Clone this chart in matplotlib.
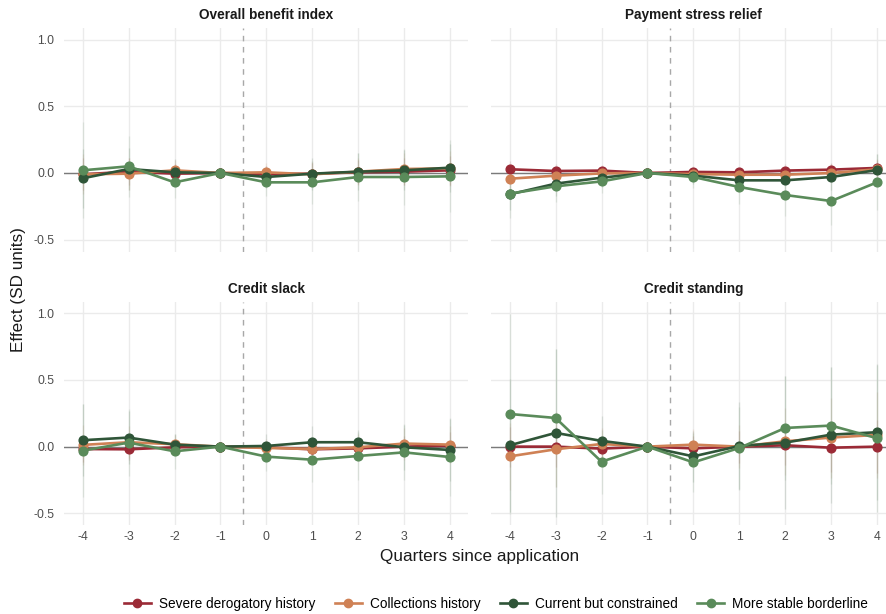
import matplotlib
matplotlib.use("Agg")
import matplotlib.pyplot as plt
from matplotlib.lines import Line2D

plt.rcParams['font.family'] = ['Liberation Sans', 'DejaVu Sans']

quarters = [-4, -3, -2, -1, 0, 1, 2, 3, 4]
groups = ["Severe derogatory history", "Collections history",
          "Current but constrained", "More stable borderline"]
group_colors = ["#9B2A36", "#CF8155", "#2F5538", "#5A8B5A"]
panel_titles = ["Overall benefit index", "Payment stress relief",
                "Credit slack", "Credit standing"]
y_ticks = [-0.5, 0.0, 0.5, 1.0]
y_tick_labels = ["-0.5", "0.0", "0.5", "1.0"]

# Point estimates (SD units), event time -1 is the reference quarter
overall_severe = [-0.01, 0.01, -0.005, 0.0, -0.01, -0.005, 0.005, 0.01, 0.02]
overall_collections = [-0.01, -0.005, 0.02, 0.0, 0.005, -0.01, 0.01, 0.03, 0.035]
overall_current = [-0.04, 0.03, 0.005, 0.0, -0.03, -0.005, 0.01, 0.02, 0.04]
overall_borderline = [0.02, 0.05, -0.07, 0.0, -0.07, -0.07, -0.03, -0.03, -0.025]

payment_severe = [0.028, 0.015, 0.018, 0.0, 0.008, 0.005, 0.018, 0.025, 0.038]
payment_collections = [-0.043, -0.02, -0.003, 0.0, -0.008, -0.013, -0.013, 0.0, 0.028]
payment_current = [-0.16, -0.08, -0.035, 0.0, -0.02, -0.055, -0.055, -0.03, 0.022]
payment_borderline = [-0.155, -0.10, -0.063, 0.0, -0.03, -0.105, -0.165, -0.21, -0.07]

slack_severe = [-0.018, -0.02, -0.005, 0.0, -0.005, -0.02, -0.013, 0.0, 0.008]
slack_collections = [0.013, 0.033, 0.018, 0.0, -0.01, -0.018, -0.005, 0.023, 0.015]
slack_current = [0.048, 0.068, 0.015, 0.0, 0.005, 0.033, 0.033, -0.005, -0.025]
slack_borderline = [-0.03, 0.03, -0.035, 0.0, -0.075, -0.098, -0.07, -0.043, -0.078]

standing_severe = [0.0, 0.0, -0.015, 0.0, -0.013, 0.0, 0.01, -0.008, 0.0]
standing_collections = [-0.073, -0.02, 0.02, 0.0, 0.015, 0.0, 0.04, 0.068, 0.088]
standing_current = [0.01, 0.103, 0.043, 0.0, -0.073, 0.005, 0.03, 0.09, 0.108]
standing_borderline = [0.245, 0.215, -0.113, 0.0, -0.118, -0.01, 0.14, 0.158, 0.063]

# 95% confidence half-widths
overall_severe_ci = [0.12, 0.10, 0.07, 0.0, 0.06, 0.08, 0.09, 0.10, 0.11]
overall_collections_ci = [0.15, 0.12, 0.08, 0.0, 0.07, 0.09, 0.10, 0.12, 0.13]
overall_current_ci = [0.22, 0.16, 0.10, 0.0, 0.08, 0.12, 0.14, 0.15, 0.18]
overall_borderline_ci = [0.36, 0.23, 0.12, 0.0, 0.10, 0.16, 0.18, 0.21, 0.27]

payment_severe_ci = [0.06, 0.05, 0.04, 0.0, 0.03, 0.04, 0.05, 0.05, 0.06]
payment_collections_ci = [0.08, 0.06, 0.05, 0.0, 0.04, 0.05, 0.06, 0.07, 0.08]
payment_current_ci = [0.12, 0.09, 0.07, 0.0, 0.06, 0.08, 0.09, 0.10, 0.12]
payment_borderline_ci = [0.18, 0.12, 0.09, 0.0, 0.08, 0.13, 0.16, 0.18, 0.21]

slack_severe_ci = [0.10, 0.08, 0.05, 0.0, 0.05, 0.07, 0.07, 0.08, 0.10]
slack_collections_ci = [0.15, 0.12, 0.07, 0.0, 0.07, 0.09, 0.10, 0.12, 0.14]
slack_current_ci = [0.27, 0.20, 0.08, 0.0, 0.09, 0.12, 0.09, 0.17, 0.23]
slack_borderline_ci = [0.35, 0.25, 0.13, 0.0, 0.11, 0.17, 0.18, 0.21, 0.29]

standing_severe_ci = [0.15, 0.15, 0.09, 0.0, 0.09, 0.12, 0.15, 0.18, 0.20]
standing_collections_ci = [0.25, 0.28, 0.12, 0.0, 0.12, 0.16, 0.25, 0.30, 0.32]
standing_current_ci = [0.50, 0.63, 0.19, 0.0, 0.19, 0.33, 0.50, 0.51, 0.51]
standing_borderline_ci = [0.75, 0.52, 0.24, 0.0, 0.22, 0.31, 0.39, 0.44, 0.55]

panels = {
    "Overall benefit index": (
        [overall_severe, overall_collections, overall_current, overall_borderline],
        [overall_severe_ci, overall_collections_ci, overall_current_ci, overall_borderline_ci]),
    "Payment stress relief": (
        [payment_severe, payment_collections, payment_current, payment_borderline],
        [payment_severe_ci, payment_collections_ci, payment_current_ci, payment_borderline_ci]),
    "Credit slack": (
        [slack_severe, slack_collections, slack_current, slack_borderline],
        [slack_severe_ci, slack_collections_ci, slack_current_ci, slack_borderline_ci]),
    "Credit standing": (
        [standing_severe, standing_collections, standing_current, standing_borderline],
        [standing_severe_ci, standing_collections_ci, standing_current_ci, standing_borderline_ci]),
}

W, H = 886, 614
fig = plt.figure(figsize=(W / 100, H / 100), dpi=100)

# panel boxes in pixels: left, top, right, bottom
boxes = [
    (64.3, 28.0, 468.4, 251.7),
    (491.3, 28.0, 895.4, 251.7),
    (64.3, 301.7, 468.4, 525.3),
    (491.3, 301.7, 895.4, 525.3),
]

tick_color = "#4D4D4D"
grid_color = "#EBEBEB"

for i, (title, box) in enumerate(zip(panel_titles, boxes)):
    l, t, r, b = box
    ax = fig.add_axes([l / W, (H - b) / H, (r - l) / W, (b - t) / H])
    ax.set_xlim(-4.4, 4.4)
    ax.set_ylim(-0.59, 1.087)
    for s in ax.spines.values():
        s.set_visible(False)
    ax.set_xticks(quarters)
    ax.set_yticks(y_ticks)
    ax.grid(True, color=grid_color, lw=1.0, zorder=0)
    ax.set_axisbelow(True)
    ax.tick_params(length=0, colors=tick_color, labelsize=8.8)
    ax.tick_params(axis="y", pad=7)
    ax.tick_params(axis="x", pad=4)
    if i % 2 == 0:
        ax.set_yticklabels(y_tick_labels)
    else:
        ax.set_yticklabels([])
    if i >= 2:
        ax.set_xticklabels([str(q) for q in quarters])
    else:
        ax.set_xticklabels([])

    ax.axhline(0, color="#7A7A7A", lw=1.0, zorder=1)
    ax.axvline(-0.5, color="#A8A8A8", lw=1.0, ls=(0, (4, 4)), zorder=1)

    ests, cis = panels[title]
    for est, ci, col in zip(ests, cis, group_colors):
        lo = [e - c for e, c in zip(est, ci)]
        hi = [e + c for e, c in zip(est, ci)]
        ax.vlines(quarters, lo, hi, color=col, alpha=0.13, lw=1.0, zorder=2)
    for est, col in zip(ests, group_colors):
        ax.plot(quarters, est, color=col, lw=1.9, marker="o", ms=6.3,
                zorder=3, solid_joinstyle="round")

    ax.annotate(title, xy=(0.5, 1.0), xycoords="axes fraction",
                xytext=(0, 9.5), textcoords="offset points",
                ha="center", va="center", fontsize=9.8, fontweight="bold",
                color="#1A1A1A")

fig.text(480 / W, (H - 557) / H, "Quarters since application",
         ha="center", va="center", fontsize=12.3, color="#1A1A1A")
fig.text(19 / W, (H - 290) / H, "Effect (SD units)", rotation=90,
         ha="center", va="center", fontsize=12.3, color="#1A1A1A")

handles = [Line2D([0], [0], color=c, lw=1.9, marker="o", ms=6) for c in group_colors]
fig.legend(handles, groups, loc="center", bbox_to_anchor=(496 / W, (H - 604) / H),
           ncol=4, frameon=False, fontsize=9.8, handlelength=2.0,
           handletextpad=0.6, columnspacing=1.4)

fig.savefig("out.png", dpi=100)
